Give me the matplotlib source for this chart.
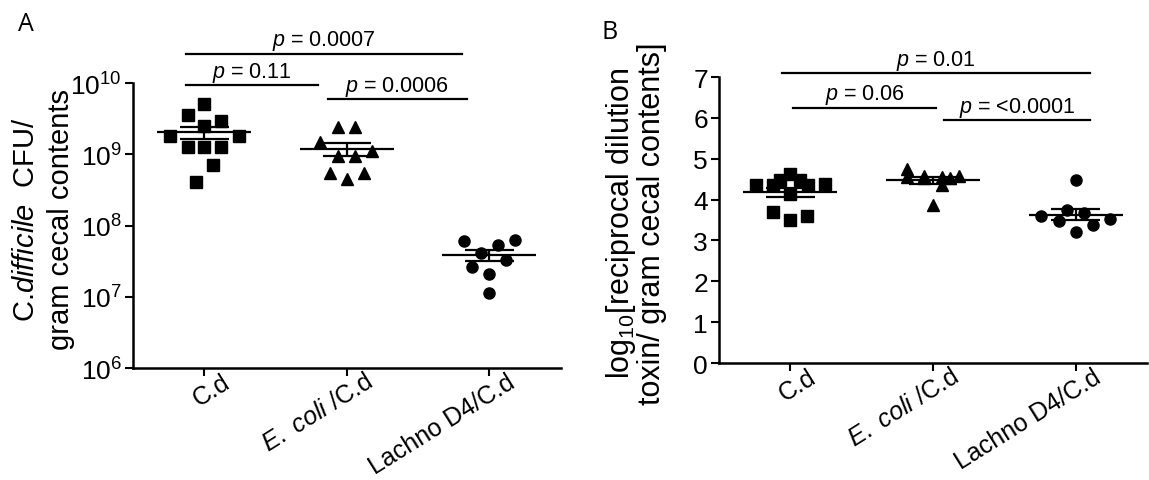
import numpy as np
import matplotlib
matplotlib.use('Agg')
import matplotlib.pyplot as plt
import matplotlib.transforms as mtransforms
from matplotlib.ticker import FixedLocator, NullLocator, FuncFormatter

plt.rcParams['font.family'] = ['Liberation Sans', 'DejaVu Sans']
plt.rcParams['mathtext.fontset'] = 'custom'
plt.rcParams['mathtext.rm'] = 'Liberation Sans'
plt.rcParams['mathtext.it'] = 'Liberation Sans:italic'

# group labels
groups = ['C.d', r'$\it{E.\ coli}$ /C.d', 'Lachno D4/C.d']

# panel A: C. difficile CFU per gram cecal contents
cd_cfu = [5.0e9, 3.6e9, 2.9e9, 2.5e9, 1.8e9, 1.8e9, 1.25e9, 1.25e9, 1.25e9, 7.1e8, 4.1e8]
cd_cfu_dx = [0, -0.115, 0.12, 0, -0.24, 0.24, -0.115, 0, 0.12, 0.06, -0.06]
ecoli_cfu = [2.4e9, 2.4e9, 1.47e9, 1.12e9, 9.4e8, 9.4e8, 5.5e8, 5.5e8, 4.5e8]
ecoli_cfu_dx = [-0.06, 0.06, -0.185, 0.18, -0.06, 0.06, -0.12, 0.12, 0]
lachno_cfu = [6.1e7, 6.3e7, 5.3e7, 4.1e7, 3.3e7, 2.6e7, 2.1e7, 1.12e7]
lachno_cfu_dx = [-0.18, 0.18, 0.06, -0.06, 0.12, -0.12, 0, 0]

# panel B: log10 reciprocal dilution toxin
cd_tox = [4.62, 4.48, 4.48, 4.35, 4.37, 4.35, 4.35, 4.13, 3.69, 3.51, 3.61]
cd_tox_dx = [0, -0.07, 0.07, -0.24, 0.24, -0.125, 0.125, 0, -0.12, 0, 0.12]
ecoli_tox = [4.75, 4.55, 4.58, 4.52, 4.56, 4.35, 4.58, 4.52, 3.86]
ecoli_tox_dx = [-0.18, -0.18, -0.06, -0.06, 0.06, 0.06, 0.18, 0.12, 0]
lachno_tox = [4.48, 3.74, 3.66, 3.59, 3.53, 3.47, 3.37, 3.21]
lachno_tox_dx = [0, -0.06, 0.06, -0.24, 0.24, -0.12, 0.12, 0]

markers = ['s', '^', 'o']
msizes = [8.5, 8.0, 8.0]

# significance bars: (x start, x end, y, text)
sig_a = [(-0.13, 1.81, 10 ** 10.41, 'p = 0.0007'),
         (-0.13, 0.80, 10 ** 9.97, 'p = 0.11'),
         (0.87, 1.84, 10 ** 9.77, 'p = 0.0006')]
sig_b = [(-0.06, 2.10, 7.09, 'p = 0.01'),
         (0.02, 1.02, 6.25, 'p = 0.06'),
         (1.08, 2.10, 5.94, 'p = <0.0001')]


def draw_group(ax, i, vals, dx):
    vals = np.array(vals)
    ax.plot(i + np.array(dx), vals, linestyle='none', marker=markers[i],
            ms=msizes[i], color='black', mec='black', clip_on=False, zorder=3)
    m = vals.mean()
    sem = vals.std(ddof=1) / np.sqrt(len(vals))
    ax.hlines(m, i - 0.33, i + 0.33, color='black', lw=1.6, zorder=4)
    ax.hlines([m - sem, m + sem], i - 0.17, i + 0.17, color='black', lw=1.6, zorder=4)
    ax.vlines(i, m - sem, m + sem, color='black', lw=1.6, zorder=4)


def style_axes(ax):
    for s in ['top', 'right']:
        ax.spines[s].set_visible(False)
    for s in ['left', 'bottom']:
        ax.spines[s].set_linewidth(1.8)
    ax.tick_params(axis='both', direction='out', length=6, width=1.5,
                   labelsize=19, pad=2)
    ax.set_xlim(-0.5, 2.5)
    ax.set_xticks(range(3))
    ax.set_xticklabels(groups, rotation=32, ha='right', va='top',
                       rotation_mode='anchor', fontsize=18)
    shift = mtransforms.ScaledTranslation(17 / 100, 10 / 100, fig.dpi_scale_trans)
    for lab in ax.get_xticklabels():
        lab.set_transform(lab.get_transform() + shift)


def sig_bars(ax, bars):
    for x0, x1, y, txt in bars:
        ax.plot([x0, x1], [y, y], color='black', lw=1.6, clip_on=False)
        ax.annotate(r'$\it{p}$' + txt[1:], xy=((x0 + x1) / 2, y),
                    xytext=(0, 1), textcoords='offset points',
                    ha='center', va='bottom', fontsize=15.5, annotation_clip=False)


fig = plt.figure(figsize=(11.49, 4.81), dpi=100)
axA = fig.add_axes([0.1158, 0.2328, 0.3721, 0.5925])
axB = fig.add_axes([0.6258, 0.2432, 0.3725, 0.5946])

# panel A
for i, (v, d) in enumerate([(cd_cfu, cd_cfu_dx), (ecoli_cfu, ecoli_cfu_dx),
                            (lachno_cfu, lachno_cfu_dx)]):
    draw_group(axA, i, v, d)
axA.set_yscale('log')
axA.set_ylim(1e6, 1e10)
axA.yaxis.set_major_locator(FixedLocator([1e6, 1e7, 1e8, 1e9, 1e10]))
axA.yaxis.set_minor_locator(NullLocator())
axA.yaxis.set_major_formatter(FuncFormatter(
    lambda v, p: r'$\mathregular{10^{%d}}$' % round(np.log10(v))))
style_axes(axA)
axA.set_ylabel('C.' + r'$\it{difficile}$' + '  CFU/\ngram cecal contents',
               fontsize=21, linespacing=1.3)
axA.yaxis.set_label_coords(-0.136, 0.523)
sig_bars(axA, sig_a)

# panel B
for i, (v, d) in enumerate([(cd_tox, cd_tox_dx), (ecoli_tox, ecoli_tox_dx),
                            (lachno_tox, lachno_tox_dx)]):
    draw_group(axB, i, v, d)
axB.set_ylim(0, 7)
axB.set_yticks(range(8))
style_axes(axB)
axB.set_ylabel('log$_{10}$[reciprocal dilution\ntoxin/ gram cecal contents]',
               fontsize=22, linespacing=0.95)
axB.yaxis.set_label_coords(-0.122, 0.491)
sig_bars(axB, sig_b)

fig.text(0.0226, 0.95, 'A', fontsize=18, family=['Open Sans', 'DejaVu Sans'],
         ha='center', va='center')
fig.text(0.531, 0.933, 'B', fontsize=18, family=['Open Sans', 'DejaVu Sans'],
         ha='center', va='center')

fig.savefig('out.png', dpi=100)
